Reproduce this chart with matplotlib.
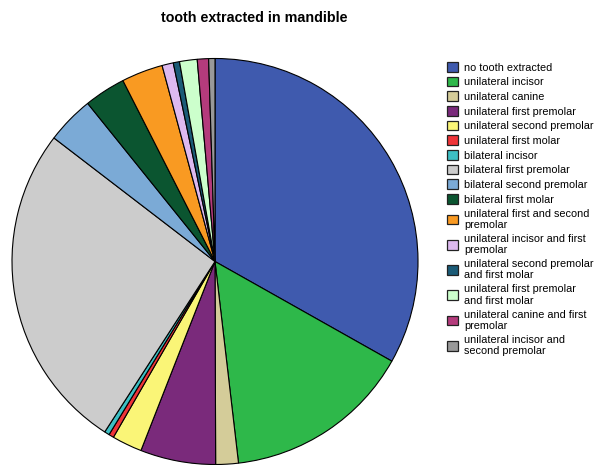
import matplotlib.pyplot as plt
from matplotlib.patches import Patch

plt.rcParams['font.family'] = ['Liberation Sans', 'DejaVu Sans']

# -----------------------------
# data (share of patients, %)
# -----------------------------
labels = [
    "no tooth extracted",
    "unilateral incisor",
    "unilateral canine",
    "unilateral first premolar",
    "unilateral second premolar",
    "unilateral first molar",
    "bilateral incisor",
    "bilateral first premolar",
    "bilateral second premolar",
    "bilateral first molar",
    "unilateral first and second\npremolar",
    "unilateral incisor and first\npremolar",
    "unilateral second premolar\nand first molar",
    "unilateral first premolar\nand first molar",
    "unilateral canine and first\npremolar",
    "unilateral incisor and\nsecond premolar",
]
values = [33.2, 15.0, 1.8, 6.0, 2.4, 0.4, 0.4, 26.3,
          3.8, 3.3, 3.3, 0.9, 0.5, 1.4, 0.9, 0.5]
colors = ["#3F5AAE", "#2EB84A", "#D4CC99", "#7A2A7B", "#FAF577", "#EF3438",
          "#3DBFC4", "#CCCCCC", "#7BAAD6", "#0B5530", "#F99A22", "#DDB9EF",
          "#1B5B77", "#CCFFCC", "#B43B7C", "#999999"]

# -----------------------------
# plot
# -----------------------------
W, H = 594, 465
fig = plt.figure(figsize=(W / 100, H / 100), dpi=100)

cx, cy, r = 215, 261.5, 203
ax = fig.add_axes([(cx - r) / W, (H - cy - r) / H, 2 * r / W, 2 * r / H])
ax.pie(values, colors=colors, startangle=90, counterclock=False,
       wedgeprops=dict(edgecolor="black", linewidth=0.8))
ax.set_xlim(-1, 1)
ax.set_ylim(-1, 1)
ax.set_aspect("equal")

fig.text(254 / W, 1 - 18 / H, "tooth extracted in mandible",
         ha="center", va="center", fontsize=10.3, fontweight="bold")

handles = [Patch(facecolor=c, edgecolor="#222222", linewidth=0.9) for c in colors]
leg = fig.legend(handles, labels, loc="upper left",
                 bbox_to_anchor=(447 / W, 1 - 62 / H),
                 frameon=False, fontsize=7.8, handlelength=1.0, handleheight=1.0,
                 handletextpad=0.55, labelspacing=0.38, borderpad=0,
                 borderaxespad=0)
for t in leg.get_texts():
    t.set_linespacing(1.14)

plt.savefig("out.png", dpi=100)
